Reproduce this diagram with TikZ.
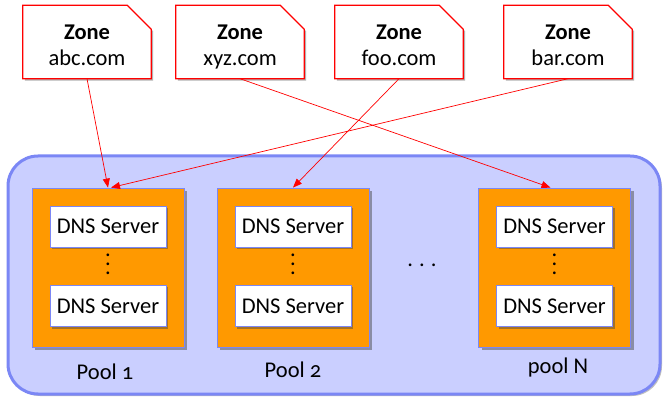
\documentclass[tikz,border=0pt]{standalone}
\usepackage{fontspec}
\setmainfont{Carlito}
\newfontfamily\poolfont[Numbers=OldStyle]{Carlito}
\usetikzlibrary{arrows.meta,shadows,backgrounds}
\definecolor{poolblue}{HTML}{CACFFF}
\definecolor{edgeblue}{HTML}{7B87F5}
\definecolor{poolorange}{HTML}{FF9900}
\newcommand{\vdotsdns}{\vbox{\baselineskip=9pt\lineskiplimit=0pt\hbox{.}\hbox{.}\hbox{.}}}
\newcommand{\zonetext}[1]{\raisebox{-5pt}[\height][\depth]{\begin{tabular}{@{}c@{}}\textbf{Zone}\\#1\end{tabular}}}

\begin{document}
\begin{tikzpicture}[
                    x=1pt, y=-1pt,
                    font=\fontsize{22.5}{26}\selectfont,
                    zone/.style={minimum width=128pt, minimum height=73pt, inner sep=0pt},
                    zoneedge/.style={draw=red, line width=1.2pt, fill=white,
                        drop shadow={shadow xshift=2pt, shadow yshift=-2pt, fill=black!60}},
                    pool/.style={draw=edgeblue, line width=0.8pt, fill=poolorange,
                        minimum width=152pt, minimum height=159pt,
                        drop shadow={shadow xshift=3pt, shadow yshift=-3pt, fill=black!70}},
                    dns/.style={draw=edgeblue, line width=0.8pt, fill=white,
                        minimum width=116pt, minimum height=41pt, inner sep=0pt,
                        drop shadow={shadow xshift=2pt, shadow yshift=-2pt, fill=black!70}},
                    wire/.style={red, line width=0.7pt, -{Triangle[length=9pt,width=7pt]}}
                ]
                \useasboundingbox (0,0) rectangle (669,403);
                \draw[draw=edgeblue, fill=poolblue, line width=3pt, rounded corners=30pt,
                    drop shadow={shadow xshift=2pt, shadow yshift=-2pt, fill=black!50}]
                    (8,156) rectangle (660,394);

                \node[zone] (abc) at (87,42)  {\zonetext{abc.com}};
                \node[zone] (xyz) at (240,42) {\zonetext{xyz.com}};
                \node[zone] (foo) at (399,42) {\zonetext{foo.com}};
                \node[zone] (bar) at (568,42) {\zonetext{bar.com}};

                % dog-eared outline behind each zone
                \begin{pgfonlayer}{background}
                    \foreach \z in {abc, xyz, foo, bar}
                        \draw[zoneedge] (\z.south west) -- (\z.north west)
                            -- ([xshift=-24pt]\z.north east) -- ([yshift=-24pt]\z.north east)
                            -- (\z.south east) -- cycle;
                \end{pgfonlayer}

                \foreach \p/\x in {1/108, 2/293, N/554.5} {
                    \node[pool] (pool\p) at (\x,267.5) {};
                    \node[dns] (top\p) at (\x,226.5) {DNS Server};
                    \node[inner sep=0pt] (dots\p) at (\x,264) {\vdotsdns};
                    \node[dns] (bot\p) at (\x,306) {DNS Server};
                }

                \node (lab1) at (105,372) {\poolfont Pool 1};
                \node (lab2) at (293,370) {\poolfont Pool 2};
                \node (labN) at (558,368) {\poolfont pool N};
                \node (more) at (422,265) {.\hspace{6pt}.\hspace{6pt}.};

                \draw[wire] (abc.south) -- (pool1.north);
                \draw[wire] (bar.south) -- ([xshift=3pt]pool1.north);
                \draw[wire] (foo.south) -- (pool2.north);
                \draw[wire] (xyz.south) -- ([xshift=-4pt]poolN.north);

            \end{tikzpicture}
\end{document}
